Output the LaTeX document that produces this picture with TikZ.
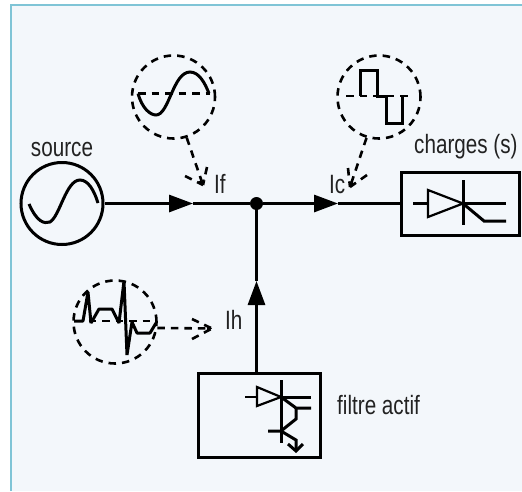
\documentclass[tikz,border=0pt]{standalone}
\usepackage{fontspec}
\setmainfont[FakeStretch=0.78]{Liberation Sans}
\usetikzlibrary{positioning,calc,arrows.meta}
\definecolor{panelbg}{HTML}{F3F7FB}
\definecolor{panelline}{HTML}{7FC4D6}
\definecolor{labelgray}{HTML}{222222}
\tikzset{
	wire/.style={line width=3pt},
	thinwire/.style={line width=2.2pt},
	flow/.style={wire,-{Triangle[length=24pt,width=17pt]}},
	ring/.style={circle,draw=black,line width=2.6pt,dash pattern=on 7.5pt off 6pt,minimum size=83pt,inner sep=0pt},
	probe/.style={line width=2.6pt,dash pattern=on 7.5pt off 6pt},
	probehead/.style={probe,-{Triangle[length=5pt,width=6pt]}},
	box/.style={draw=black,line width=3pt,inner sep=0pt},
	lbl/.style={inner sep=0pt,text=labelgray,font=\fontsize{26.5}{26.5}\selectfont}
}
\begin{document}
\begin{tikzpicture}[x=1pt,y=-1pt]
	\useasboundingbox (0,0) rectangle (522,491);
	\fill[panelbg] (11,5) rectangle (522,491);
	\draw[panelline,line width=1.2pt] (11,491)--(11,5)--(522,5);

	% main circuit
	\node[circle,draw=black,line width=3pt,minimum size=82pt,inner sep=0pt] (src) at (62,203.5) {};
	\node[box,minimum width=118pt,minimum height=63pt] (load) at (460,203.5) {};
	\node[box,minimum width=122pt,minimum height=84pt] (filt) at (259,415) {};
	\node[circle,fill=black,minimum size=13pt,inner sep=0pt] (jn) at (256.5,203.5) {};
	\coordinate (tipf) at (193,203.5);
	\coordinate (tipc) at (338,203.5);
	\coordinate (tiph) at (256.5,281);
	\coordinate (filttop) at (256.5,373);
	\draw[flow] (src.east)--(tipf);
	\draw[wire] (tipf)--(jn);
	\draw[flow] (jn)--(tipc);
	\draw[wire] (tipc)--(load.west);
	\draw[flow] (filttop)--(tiph);
	\draw[wire] (tiph)--(jn);

	% source
	\draw[wire] (29,204) .. controls (37,222) and (44,224) .. (50,222) .. controls (60,216) and (66,180) .. (80,180) .. controls (88,180) and (94,190) .. (98,203);

	% fundamental
	\node[ring] (ringf) at (173.5,97) {};
	\coordinate (headf) at (203,185);
	\coordinate (bf1) at (185,176);
	\coordinate (bf2) at (207,167);
	\draw[probe] (138,93.5)--(210,93.5);
	\draw[wire] (138,93.5) .. controls (142,108) and (150,115) .. (156,115) .. controls (169,115) and (173,72) .. (190,72) .. controls (199,72) and (205,83) .. (209,93.5);
	\draw[probehead] (ringf.-72)--(headf);
	\draw[probe] (bf1)--(headf);
	\draw[probe] (bf2)--(headf);

	% load current
	\node[ring] (ringc) at (379,97) {};
	\coordinate (headc) at (350,187);
	\coordinate (bc1) at (348,168);
	\coordinate (bc2) at (367,175);
	\draw[probe] (346,96)--(411,96);
	\draw[wire,line join=miter] (360,96)--(360,70)--(377,70)--(377,96)--(386,96)--(386,123)--(402,123)--(402,96);
	\draw[probehead] (ringc.-107)--(headc);
	\draw[probe] (bc1)--(headc);
	\draw[probe] (bc2)--(headc);

	% harmonics
	\node[ring] (ringh) at (115,322) {};
	\coordinate (headh) at (212,328.5);
	\coordinate (bh1) at (192,319);
	\coordinate (bh2) at (192,339);
	\draw[probe] (75,321)--(155,321);
	\draw[wire,line join=bevel] (74,321)--(83,321)--(88,292)--(91,323)--(99,309)--(112,309)--(119,323)--(124,281)--(127,355)--(132,322)--(137,333)--(150,333)--(156,323);
	\draw[probehead] (ringh.-8)--(headh);
	\draw[probe] (bh1)--(headh);
	\draw[probe] (bh2)--(headh);

	% thyristor in load
	\draw[thinwire] (413,203.5)--(428,203.5);
	\draw[thinwire] (428,190)--(428,217)--(463,203.5)--cycle;
	\draw[wire] (463,180)--(463,225);
	\draw[wire] (463,203.5)--(506,203.5);
	\draw[wire] (463,203.5)--(484,221)--(506,221);

	% switch in filter
	\draw[thinwire] (245,397)--(257,397);
	\draw[thinwire] (257,387)--(257,406)--(281,397)--cycle;
	\draw[wire] (281,380)--(281,443);
	\draw[wire] (281,397)--(311,397);
	\draw[wire] (281,397)--(296,408)--(311,408);
	\draw[wire] (296,408)--(296,419)--(281,431)--(268,431);
	\draw[wire] (281,431)--(296,440)--(296,451);
	\draw[wire] (288,444)--(296,451)--(303,444);

	% labels
	\node[lbl] (lsrc) at (62,149) {source};
	\node[lbl,anchor=west] (lif) at (214,184) {If};
	\node[lbl,anchor=west] (lic) at (329,185) {Ic};
	\node[lbl,anchor=west] (lih) at (225,320) {Ih};
	\node[lbl,anchor=west] (lload) at (414,147) {charges (s)};
	\node[lbl,anchor=west] (lfilt) at (337,405) {filtre actif};
\end{tikzpicture}
\end{document}
